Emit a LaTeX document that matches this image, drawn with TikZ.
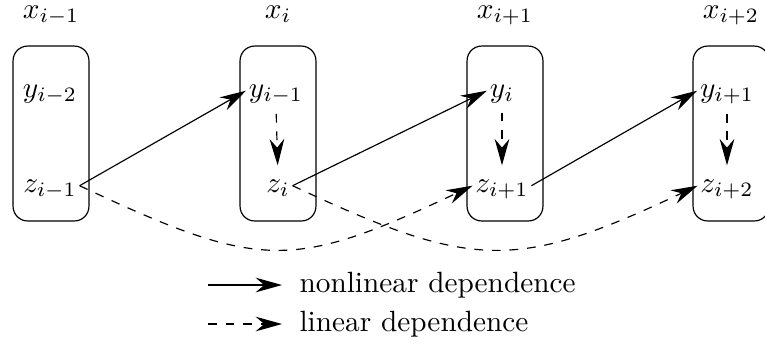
\documentclass[tikz,border=0pt]{standalone}
\usetikzlibrary{arrows.meta}
\begin{document}
\begin{tikzpicture}[x=0.3413pt,y=-0.3413pt,
  box/.style={draw, rounded corners=5pt, minimum width=25.9pt, minimum height=59.7pt, inner sep=0pt},
  lbl/.style={inner sep=0.8pt, anchor=base},
  tip/.style={-{Stealth[length=9pt,width=5pt]}},
  vdash/.style={tip, dashed, shorten <=2.4pt, shorten >=3.8pt},
  legtext/.style={anchor=west, inner xsep=0pt, inner ysep=1pt}
  ]
\useasboundingbox (0,0) rectangle (765,347);
% boxes
\node[box] (b1) at (51,133.5) {};
\node[box] (b2) at (278,133.5) {};
\node[box] (b3) at (505,133.5) {};
\node[box] (b4) at (731,133.5) {};
% top labels
\node[lbl] (x1) at (51,18) {$x_{i-1}$};
\node[lbl] (x2) at (278,18) {$x_i$};
\node[lbl] (x3) at (505,18) {$x_{i+1}$};
\node[lbl] (x4) at (731,18) {$x_{i+2}$};
% y nodes
\node[lbl] (y1) at (50,97) {$y_{i-2}$};
\node[lbl] (y2) at (276,97) {$y_{i-1}$};
\node[lbl] (y3) at (502,97) {$y_i$};
\node[lbl] (y4) at (727,97) {$y_{i+1}$};
% z nodes
\node[lbl] (z1) at (50,192) {$z_{i-1}$};
\node[lbl] (z2) at (278,192) {$z_i$};
\node[lbl] (z3) at (502,192) {$z_{i+1}$};
\node[lbl] (z4) at (727,192) {$z_{i+2}$};
% nonlinear
\draw[tip] (z1.mid east) -- (y2.mid west);
\draw[tip] (z2.mid east) -- (y3.mid west);
\draw[tip] (z3.mid east) -- (y4.mid west);
% linear within boxes
\draw[vdash] (y2.south) -- (z2.north);
\draw[vdash] (y3.south) -- (z3.north);
\draw[vdash] (y4.south) -- (z4.north);
% linear curves
\draw[tip, dashed] (z1.mid east) .. controls +(181,85) and +(-181,85) .. (z3.mid west);
\draw[tip, dashed] (z2.mid east) .. controls +(181,85) and +(-181,85) .. (z4.mid west);
% legend
\coordinate (l1) at (208,285);
\coordinate (l2) at (208,324);
\node[legtext] (t1) at (299,285) {nonlinear dependence};
\node[legtext] (t2) at (299,324) {linear dependence};
\draw[tip] (l1) -- ([xshift=-5.8pt]t1.west);
\draw[tip, dashed] (l2) -- ([xshift=-5.8pt]t2.west);
\end{tikzpicture}
\end{document}
